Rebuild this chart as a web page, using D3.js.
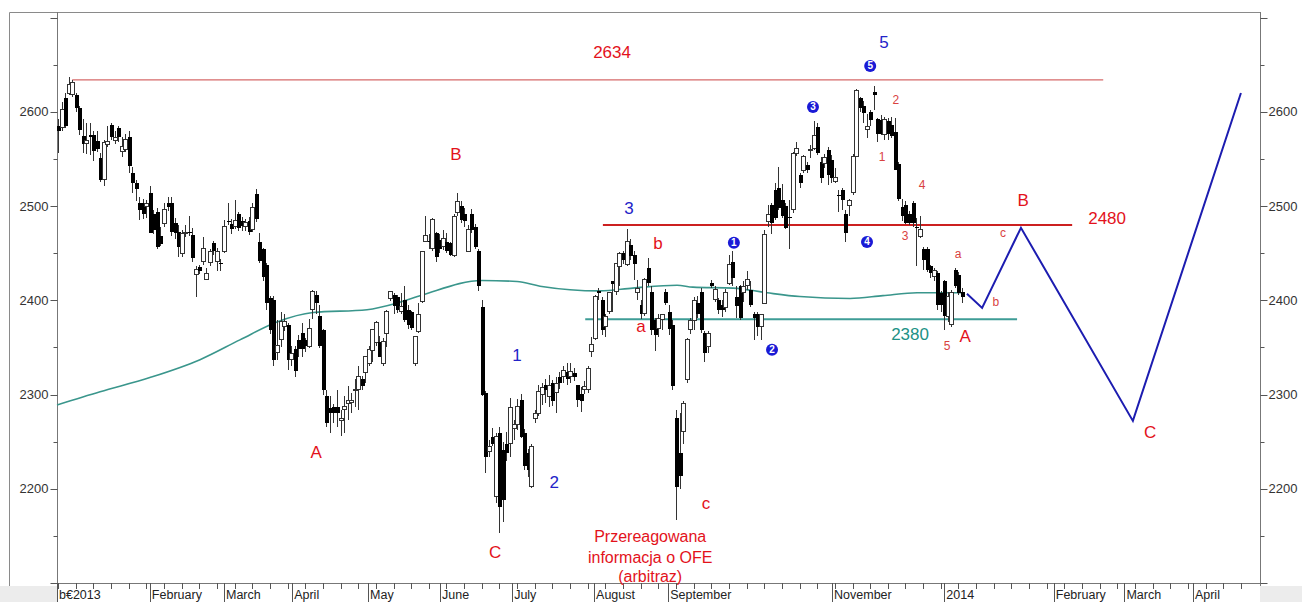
<!DOCTYPE html>
<html><head><meta charset="utf-8">
<script src="https://cdn.jsdelivr.net/npm/d3@7"></script>
<style>html,body{margin:0;padding:0;background:#fff;overflow:hidden}</style>
</head><body><svg id="c" width="1302" height="602"></svg>
<script>
// ---- daily candles: [open, high, low, close] ----
const ohlc = [
[2585,2592,2556,2580],[2583,2611,2580,2602],[2615,2620,2583,2585],[2620,2637,2618,2629],[2618,2634,2616,2631],
[2618,2620,2600,2604],[2604,2606,2575,2581],[2574,2592,2556,2566],[2566,2588,2555,2570],[2575,2588,2554,2573],
[2575,2580,2548,2559],[2569,2580,2557,2561],[2551,2556,2526,2528],[2528,2570,2521,2567],[2565,2585,2563,2569],
[2586,2588,2570,2573],[2570,2580,2566,2573],[2583,2585,2568,2573],[2558,2573,2552,2563],[2560,2577,2557,2571],
[2573,2580,2535,2543],[2535,2542,2514,2524],[2524,2528,2505,2518],[2503,2510,2485,2496],[2503,2508,2486,2492],
[2500,2506,2487,2503],[2514,2521,2471,2471],[2492,2496,2470,2475],[2494,2498,2455,2457],[2468,2478,2458,2460],
[2482,2503,2478,2496],[2503,2510,2495,2499],[2503,2510,2468,2473],[2482,2487,2465,2471],[2473,2480,2446,2457],
[2450,2475,2446,2471],[2471,2480,2467,2472],[2473,2489,2468,2471],[2469,2477,2441,2445],[2427,2436,2404,2433],
[2435,2438,2428,2431],[2441,2467,2437,2455],[2422,2434,2422,2428],[2440,2454,2436,2452],[2461,2463,2448,2452],
[2441,2456,2431,2452],[2440,2444,2431,2439],[2452,2485,2450,2478],[2484,2503,2480,2483],[2481,2486,2470,2476],
[2478,2506,2476,2485],[2492,2494,2474,2477],[2484,2488,2474,2479],[2478,2486,2474,2483],[2484,2488,2469,2472],
[2475,2503,2472,2499],[2513,2518,2483,2486],[2462,2471,2440,2442],[2454,2456,2421,2425],[2437,2440,2390,2397],
[2402,2405,2364,2368],[2400,2405,2330,2337],
[2345,2379,2337,2352],[2358,2388,2350,2378],[2372,2385,2367,2377],[2374,2376,2326,2337],[2337,2351,2330,2344],
[2348,2352,2319,2325],[2358,2363,2340,2348],[2365,2376,2340,2348],[2358,2360,2345,2351],[2351,2380,2349,2370],
[2390,2411,2380,2409],[2406,2410,2385,2397],[2383,2395,2349,2351],[2368,2370,2300,2305],[2298,2305,2266,2270],
[2286,2298,2259,2280],[2287,2290,2270,2280],[2287,2305,2266,2280],[2272,2284,2256,2275],[2284,2298,2259,2287],
[2291,2309,2273,2294],[2292,2302,2280,2294],[2305,2316,2287,2305],[2305,2330,2284,2319],[2316,2320,2305,2309],
[2323,2341,2312,2340],[2333,2352,2330,2348],[2347,2370,2335,2369],[2355,2378,2351,2376],[2356,2362,2340,2340],
[2333,2360,2330,2356],[2365,2390,2350,2388],[2402,2410,2399,2409],[2406,2408,2386,2394],[2404,2406,2387,2390],
[2388,2408,2386,2393],[2400,2415,2377,2379],[2390,2395,2370,2374],[2388,2389,2369,2371],[2333,2362,2330,2362],
[2367,2397,2365,2385],[2399,2452,2397,2452],[2462,2489,2462,2469],[2463,2470,2455,2462],[2455,2487,2452,2486],
[2471,2473,2441,2446],[2464,2470,2450,2455],[2457,2475,2453,2466],[2462,2471,2450,2452],[2461,2462,2447,2448],
[2448,2492,2446,2489],[2493,2514,2490,2505],[2500,2505,2482,2485],[2492,2498,2478,2484],[2452,2480,2451,2475],
[2492,2497,2471,2475],[2478,2481,2455,2457],
[2452,2455,2410,2415],[2393,2400,2298,2300],[2302,2304,2217,2234],[2240,2252,2234,2245],[2255,2264,2245,2248],
[2192,2259,2185,2255],[2259,2266,2153,2181],[2241,2250,2165,2188],[2247,2260,2230,2238],[2248,2296,2234,2286],
[2264,2273,2252,2268],[2268,2295,2262,2287],[2294,2301,2254,2255],[2259,2263,2220,2224],[2238,2242,2213,2220],
[2202,2247,2201,2245],[2275,2284,2270,2280],[2280,2310,2277,2303],[2300,2312,2289,2307],[2310,2316,2291,2305],
[2298,2321,2287,2310],[2312,2315,2288,2293],[2302,2319,2280,2312],[2319,2324,2306,2312],[2319,2330,2312,2326],
[2324,2334,2310,2316],[2319,2333,2312,2324],[2323,2328,2314,2319],[2310,2310,2287,2294],[2301,2308,2282,2293],
[2305,2314,2301,2309],[2305,2330,2302,2328],[2346,2361,2340,2353],[2360,2406,2358,2404],[2410,2413,2400,2408],
[2400,2404,2363,2369],[2372,2385,2361,2383],[2388,2409,2386,2408],[2420,2421,2388,2417],[2409,2440,2406,2439],
[2436,2451,2415,2450],[2450,2452,2439,2443],[2438,2476,2436,2462],[2459,2465,2443,2447],[2448,2452,2422,2439],
[2408,2422,2400,2413],[2395,2400,2380,2385],[2386,2424,2383,2422],[2434,2445,2415,2418],[2409,2415,2363,2369],
[2379,2381,2346,2363],[2370,2385,2361,2381],[2380,2386,2369,2385],[2409,2412,2395,2397],[2388,2395,2363,2370],
[2374,2379,2305,2309],[2275,2284,2167,2202],[2238,2280,2200,2214],[2261,2293,2248,2291],[2316,2360,2312,2358],
[2369,2381,2364,2379],[2379,2404,2369,2400],[2397,2405,2381,2385],[2409,2413,2365,2369],[2365,2367,2335,2344],
[2351,2367,2344,2365],[2418,2422,2413,2415],[2401,2415,2398,2411],[2400,2403,2385,2390],[2395,2400,2382,2390],
[2392,2412,2388,2408],
[2418,2448,2416,2438],[2441,2452,2415,2424],[2404,2415,2381,2394],[2415,2416,2379,2381],[2408,2420,2398,2415],
[2416,2431,2411,2422],[2411,2420,2393,2395],[2386,2388,2358,2381],[2385,2388,2362,2372],[2372,2386,2358,2385],
[2397,2475,2396,2470],[2484,2501,2478,2491],[2501,2503,2470,2482],[2517,2524,2485,2487],[2519,2542,2496,2498],
[2507,2523,2487,2489],[2500,2503,2476,2477],[2488,2507,2455,2487],[2496,2557,2493,2556],[2556,2568,2553,2561],
[2533,2535,2519,2524],[2538,2554,2535,2553],[2544,2547,2535,2538],[2559,2565,2551,2560],[2561,2590,2560,2575],
[2584,2588,2554,2556],[2547,2552,2525,2530],[2545,2555,2540,2552],[2560,2563,2522,2533],[2549,2554,2524,2530],
[2526,2540,2524,2530],[2512,2517,2494,2511],[2517,2519,2496,2507],[2492,2496,2462,2471],[2501,2508,2489,2506],
[2514,2555,2512,2553],[2553,2624,2552,2623],[2615,2616,2600,2604],[2606,2612,2588,2599],[2581,2598,2572,2584],
[2600,2602,2585,2591],[2621,2627,2602,2618],[2592,2593,2568,2576],[2591,2597,2575,2576],[2576,2595,2570,2592],
[2590,2594,2570,2577],[2586,2595,2572,2574],[2579,2593,2538,2538],[2545,2547,2505,2508],[2499,2508,2484,2489],
[2501,2505,2481,2482],[2492,2495,2480,2482],[2503,2505,2478,2482],[2478,2487,2436,2477],[2468,2489,2466,2475],
[2454,2457,2432,2443],[2454,2457,2430,2432],[2436,2438,2424,2429],[2425,2434,2420,2432],[2429,2431,2390,2395],
[2408,2410,2388,2395],[2420,2422,2369,2383],[2383,2409,2377,2404],[2374,2411,2372,2408],[2432,2434,2413,2415],
[2427,2430,2406,2408],[2409,2413,2397,2404]
];

// ---- moving average (read at sample points) ----
const maIndex = [-0.3, 11.9, 26, 40.2, 51.5, 62, 72.2, 87.5, 96, 103.4, 120.1, 130, 136.5, 153.5, 162.8, 175.3, 179.8, 191.2, 200.8, 210.1, 224.3, 233.6, 243.3, 256.3];
const maValue = [2289, 2303, 2318, 2337, 2358, 2377, 2387, 2390, 2397, 2406, 2421, 2420, 2415, 2410, 2413, 2416, 2414, 2413, 2408, 2404, 2402, 2405, 2408, 2408];

// ---- projected path ----
const projIndex = [257.4, 261.7, 272.7, 304.4, 335];
const projValue = [2407, 2392, 2477, 2272, 2620];

// ---- horizontal levels ----
const levelValue = [2634, 2480, 2380];
const levelFrom = [4, 154.3, 149.3];
const levelTo = [296, 287.2, 271.6];

// ---- axes ----
const yTickValues = [2100,2150,2200,2250,2300,2350,2400,2450,2500,2550,2600,2650,2700];
const yLabelValues = [2200,2300,2400,2500,2600];
const monthLabels = ["b\u20ac2013","February","March","April","May","June","July","August","September","November","2014","February","March","April"];
const monthIndex = [-0.3, 26, 47, 66.3, 87.8, 108.2, 128.6, 151.8, 172.8, 219.2, 251, 282, 302, 321.4];

// ---- annotations ----
const noteText = ["2634","5","3","b","a","1","2","B","A","C","c","2","1","4","3","a","5","A","b","c","B","2480","2380","C"];
const noteIndex = [156.9,233.9,161.7,169.9,165.1,130,140.5,112.7,73.1,123.8,183.5,237.3,233.4,244.7,239.9,254.9,251.8,256.9,265.6,267.6,273.3,297.1,241.3,309.3];
const noteValue = [2663.7,2674.3,2498.1,2461,2372.9,2342.2,2207.4,2555.4,2239.3,2133.2,2185.1,2612.7,2552.3,2522.5,2468.4,2449.3,2351.7,2362.3,2398.4,2471.6,2506.6,2487.5,2364.4,2260.5];
const noteKind = ["red","blue","blue","red","red","blue","blue","red","red","red","red","small","small","small","small","small","small","red","small","small","red","red","teal","red"];
const circleText = ["1","2","3","4","5"];
const circleIndex = [191.4,202.2,213.8,229.1,230];
const circleValue = [2461,2347.5,2605.3,2462,2648.8];
const commentLines = ["Przereagowana","informacja o OFE","(arbitraz)"];
const commentIndex = 167.7;
const commentValue = [2149.1,2126.8,2106.6];

// ================= drawing =================
const svg = d3.select("#c");
const L = 57, R = 1260, T = 12, B = 583;
const x = d3.scaleLinear().domain([-0.3, 340.4]).range([L, R]);
const y = d3.scaleLinear().domain([2100, 2706]).range([B, T]);
const font = "Liberation Sans, Arial, sans-serif";

svg.append("rect").attr("width",1302).attr("height",602).attr("fill","#fff");
// bottom grey band
svg.append("rect").attr("x",0).attr("y",B+3).attr("width",1302).attr("height",602-B-3).attr("fill","#ececec");
svg.append("rect").attr("x",L).attr("y",B+3).attr("width",R-L).attr("height",602-B-3).attr("fill","#fff");
// frame
svg.append("path").attr("d",`M9.5,${B+3} V${T+0.5} H${R}`).attr("fill","none").attr("stroke","#8a8a8a");

// left axis
const gL = svg.append("g").attr("transform",`translate(${L+0.5},0)`);
gL.append("line").attr("y1",T).attr("y2",B+3).attr("stroke","#777");
gL.selectAll("line.t").data(yTickValues).join("line").attr("class","t")
  .attr("x1", d => d % 100 === 0 ? -7 : -4).attr("x2",0)
  .attr("y1", d => Math.round(y(d))+0.5).attr("y2", d => Math.round(y(d))+0.5).attr("stroke","#555");
gL.selectAll("text").data(yLabelValues).join("text")
  .attr("x",-9).attr("y", d => y(d)).attr("dy","0.35em").attr("text-anchor","end")
  .attr("font-family",font).attr("font-size",13).attr("fill","#333").text(d => d);

// right axis
const gR = svg.append("g").attr("transform",`translate(${R+0.5},0)`);
gR.append("line").attr("y1",T).attr("y2",B+3).attr("stroke","#777");
gR.selectAll("line.t").data(yTickValues).join("line").attr("class","t")
  .attr("x1",0).attr("x2", d => d % 100 === 0 ? 7 : 4)
  .attr("y1", d => Math.round(y(d))+0.5).attr("y2", d => Math.round(y(d))+0.5).attr("stroke","#555");
gR.selectAll("text").data(yLabelValues).join("text")
  .attr("x",8).attr("y", d => y(d)).attr("dy","0.35em").attr("text-anchor","start")
  .attr("font-family",font).attr("font-size",13).attr("fill","#333").text(d => d);

// bottom axis
const gB = svg.append("g");
gB.append("line").attr("x1",L).attr("x2",R).attr("y1",B+0.5).attr("y2",B+0.5).attr("stroke","#777");
const weekTicks = d3.range(0, 340, 5);
gB.selectAll("line.w").data(weekTicks).join("line").attr("class","w")
  .attr("x1", d => Math.round(x(d))+0.5).attr("x2", d => Math.round(x(d))+0.5)
  .attr("y1",B).attr("y2",B+6).attr("stroke","#555");
gB.selectAll("line.m").data(monthIndex).join("line").attr("class","m")
  .attr("x1", d => Math.round(x(d))+0.5).attr("x2", d => Math.round(x(d))+0.5)
  .attr("y1",B).attr("y2",602).attr("stroke","#555");
gB.selectAll("text").data(monthLabels).join("text")
  .attr("x",(d,i) => x(monthIndex[i]) + 2).attr("y",599)
  .attr("font-family",font).attr("font-size",12.5).attr("fill","#222").text(d => d);

// moving average
svg.append("path").datum(maIndex.map((d,i)=>[d,maValue[i]]))
  .attr("d", d3.line().x(d=>x(d[0])).y(d=>y(d[1])).curve(d3.curveMonotoneX))
  .attr("fill","none").attr("stroke","#3a968c").attr("stroke-width",1.6);

// levels
const levelColor = ["#d66a6a","#cc2020","#3e9c96"];
const levelWidth = [1.2,2,2];
svg.selectAll("line.lv").data(levelValue).join("line").attr("class","lv")
  .attr("x1",(d,i)=>x(levelFrom[i])).attr("x2",(d,i)=>x(levelTo[i]))
  .attr("y1",d=>y(d)).attr("y2",d=>y(d))
  .attr("stroke",(d,i)=>levelColor[i]).attr("stroke-width",(d,i)=>levelWidth[i]);

// candles
const gC = svg.append("g").attr("shape-rendering","crispEdges");
ohlc.forEach((c,i) => {
  const [o,h,l,cl] = c;
  const cx = Math.round(x(i));
  gC.append("line").attr("x1",cx+0.5).attr("x2",cx+0.5).attr("y1",y(h)).attr("y2",y(l)).attr("stroke","#333");
  const top = y(Math.max(o,cl)), bot = y(Math.min(o,cl));
  const hgt = Math.max(1, bot-top);
  if (cl >= o) {
    gC.append("rect").attr("x",cx-1.5).attr("y",top).attr("width",4).attr("height",hgt)
      .attr("fill","#fff").attr("stroke","#333").attr("stroke-width",1);
  } else {
    gC.append("rect").attr("x",cx-1).attr("y",top).attr("width",4).attr("height",hgt).attr("fill","#000");
  }
});

// projection
svg.append("path").datum(projIndex.map((d,i)=>[d,projValue[i]]))
  .attr("d", d3.line().x(d=>x(d[0])).y(d=>y(d[1])))
  .attr("fill","none").attr("stroke","#1c1cb0").attr("stroke-width",2);

// annotations
const kindColor = {red:"#e3121b", blue:"#2323c8", small:"#d9423f", teal:"#219185"};
const kindSize = {red:17, blue:17, small:12, teal:17};
svg.selectAll("text.note").data(noteText).join("text").attr("class","note")
  .attr("x",(d,i)=>x(noteIndex[i])).attr("y",(d,i)=>y(noteValue[i])).attr("dy","0.35em")
  .attr("text-anchor","middle").attr("font-family",font)
  .attr("font-size",(d,i)=>kindSize[noteKind[i]]).attr("fill",(d,i)=>kindColor[noteKind[i]]).text(d=>d);

const gc = svg.selectAll("g.circ").data(circleText).join("g").attr("class","circ")
  .attr("transform",(d,i)=>`translate(${x(circleIndex[i])},${y(circleValue[i])})`);
gc.append("circle").attr("r",6).attr("fill","#1a1ad6");
gc.append("text").attr("dy","0.35em").attr("text-anchor","middle").attr("font-family",font)
  .attr("font-size",10).attr("font-weight","bold").attr("fill","#fff").text(d=>d);

svg.selectAll("text.cm").data(commentLines).join("text").attr("class","cm")
  .attr("x",x(commentIndex)).attr("y",(d,i)=>y(commentValue[i])).attr("dy","0.35em")
  .attr("text-anchor","middle").attr("font-family",font).attr("font-size",16).attr("fill","#e3121b").text(d=>d);
</script></body></html>
